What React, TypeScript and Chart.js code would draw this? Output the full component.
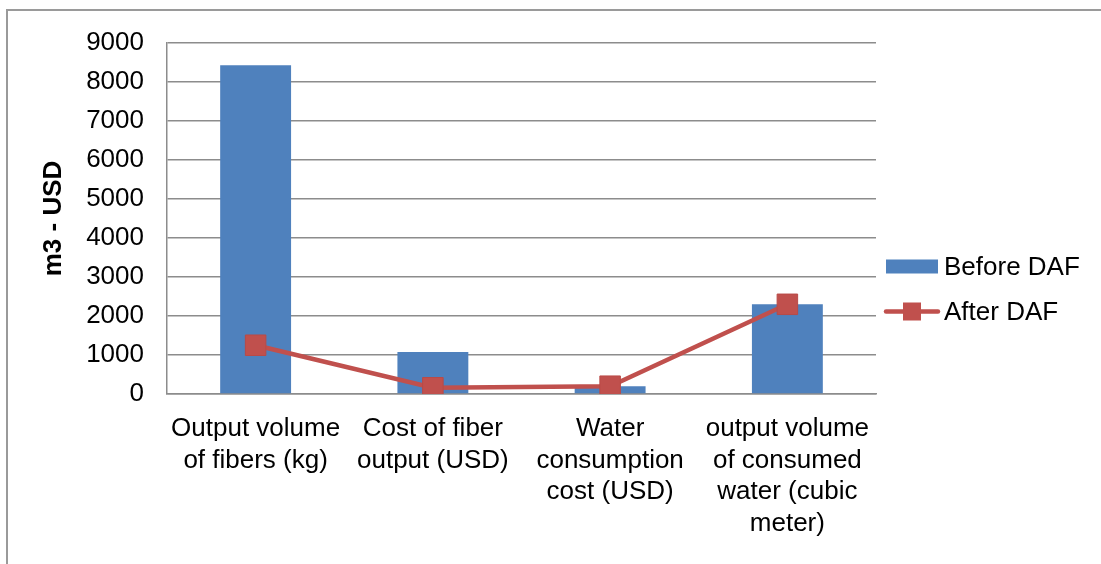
import React, { useEffect, useRef } from "react";
import { Chart, registerables } from "chart.js";

Chart.register(...registerables);

// ---- data ----
const categories: string[][] = [
  ["Output volume", "of fibers (kg)"],
  ["Cost of fiber", "output (USD)"],
  ["Water", "consumption", "cost (USD)"],
  ["output volume", "of consumed", "water (cubic", "meter)"],
];
const beforeDAF: number[] = [8430, 1080, 200, 2300];
const afterDAF: number[] = [1250, 160, 200, 2300];
const seriesNames: string[] = ["Before DAF", "After DAF"];
const yAxisTitle = "m3 - USD";
const yMin = 0;
const yMax = 9000;
const yStep = 1000;

// ---- styling ----
const FONT = '"Liberation Sans", Arial, Helvetica, sans-serif';
const BLUE = "#4F81BD";
const RED = "#C0504D";
const GRID = "#8C8C8C";

// Legend drawn at the right of the plot: a bar swatch and a line-with-marker swatch
const sideLegend = {
  id: "sideLegend",
  afterDraw(chart: any) {
    const { ctx, chartArea } = chart;
    const x0 = chartArea.right + 10;
    const midY = chart.height / 2 + 7;
    const gap = 45;
    const y1 = midY - gap / 2;
    const y2 = midY + gap / 2;
    const swatchW = 52;
    ctx.save();
    // bar swatch
    ctx.fillStyle = BLUE;
    ctx.fillRect(x0, y1 - 7, swatchW, 14);
    // line swatch
    ctx.strokeStyle = RED;
    ctx.lineWidth = 4.5;
    ctx.lineCap = "round";
    ctx.beginPath();
    ctx.moveTo(x0, y2);
    ctx.lineTo(x0 + swatchW, y2);
    ctx.stroke();
    ctx.fillStyle = RED;
    ctx.fillRect(x0 + swatchW / 2 - 9, y2 - 9, 18, 18);
    // labels
    ctx.fillStyle = "#000";
    ctx.font = `26px ${FONT}`;
    ctx.textAlign = "left";
    ctx.textBaseline = "middle";
    ctx.fillText(seriesNames[0], x0 + swatchW + 6, y1 + 1);
    ctx.fillText(seriesNames[1], x0 + swatchW + 6, y2 + 1);
    ctx.restore();
  },
};

export default function App() {
  const canvasRef = useRef<HTMLCanvasElement | null>(null);

  useEffect(() => {
    if (!canvasRef.current) return;
    const chart = new Chart(canvasRef.current, {
      type: "bar",
      data: {
        labels: categories,
        datasets: [
          {
            type: "line",
            label: seriesNames[1],
            data: afterDAF,
            borderColor: RED,
            backgroundColor: RED,
            borderWidth: 4.5,
            pointStyle: "rect",
            pointRadius: 14.5,
            pointBackgroundColor: RED,
            pointBorderColor: "#B94A47",
            pointBorderWidth: 1,
            tension: 0,
            order: 0,
          } as any,
          {
            type: "bar",
            label: seriesNames[0],
            data: beforeDAF,
            backgroundColor: BLUE,
            borderWidth: 0,
            categoryPercentage: 1,
            barPercentage: 0.4,
            order: 1,
          },
        ],
      },
      options: {
        animation: false,
        responsive: true,
        maintainAspectRatio: false,
        layout: { padding: { top: 43, right: 225, left: 0, bottom: 0 } },
        plugins: {
          legend: { display: false },
          tooltip: { enabled: false },
        },
        scales: {
          x: {
            grid: { display: false, drawTicks: false },
            border: { display: true, color: GRID, width: 1.5 },
            ticks: {
              color: "#000",
              font: { family: FONT, size: 26, lineHeight: 1.22 },
              padding: 19,
              maxRotation: 0,
              autoSkip: false,
            },
            afterFit(scale: any) {
              scale.height = 170;
            },
          },
          y: {
            min: yMin,
            max: yMax,
            grid: { color: GRID, lineWidth: 1.5, drawTicks: false },
            border: { display: true, color: GRID, width: 1.5 },
            ticks: {
              stepSize: yStep,
              color: "#000",
              font: { family: FONT, size: 26 },
              padding: 23,
              callback: (v: any) => String(v),
            },
            title: {
              display: true,
              text: yAxisTitle,
              color: "#000",
              font: { family: FONT, size: 26, weight: "bold" },
              padding: { top: 38, bottom: 0 },
            },
            afterFit(scale: any) {
              scale.width = 167;
            },
          },
        },
      },
      plugins: [sideLegend],
    });
    return () => chart.destroy();
  }, []);

  return (
    <div
      style={{
        position: "fixed",
        left: 0,
        top: 0,
        width: 1101,
        height: 564,
        overflow: "hidden",
        background: "#fff",
      }}
    >
      <div
        style={{
          position: "absolute",
          left: 6,
          top: 9,
          width: 1300,
          height: 800,
          border: "2px solid #9A9A9A",
          boxSizing: "border-box",
        }}
      />
      <div style={{ position: "absolute", left: 0, top: 0, width: 1101, height: 564 }}>
        <canvas ref={canvasRef} />
      </div>
    </div>
  );
}
